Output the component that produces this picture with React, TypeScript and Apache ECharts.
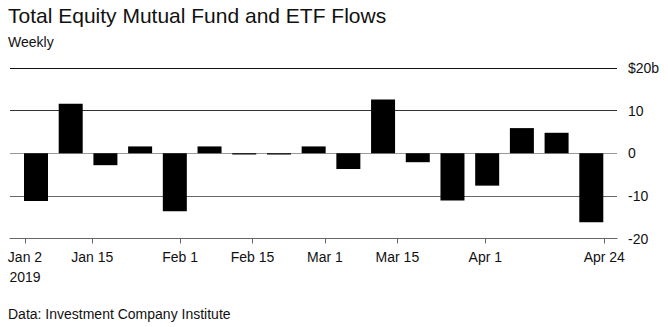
import React, { useEffect, useRef } from "react";
import * as echarts from "echarts";

const weeks = [
  "2019-01-02", "2019-01-09", "2019-01-16", "2019-01-23", "2019-01-30",
  "2019-02-06", "2019-02-13", "2019-02-20", "2019-02-27",
  "2019-03-06", "2019-03-13", "2019-03-20", "2019-03-27",
  "2019-04-03", "2019-04-10", "2019-04-17", "2019-04-24",
];
const flows = [-11.2, 11.6, -2.8, 1.6, -13.6, 1.6, -0.3, -0.3, 1.6, -3.7, 12.6, -2.1, -11.1, -7.6, 5.9, 4.8, -16.2];
const tickDates = ["2019-01-02", "2019-01-15", "2019-02-01", "2019-02-15", "2019-03-01", "2019-03-15", "2019-04-01", "2019-04-24"];
const tickLabels = ["Jan 2\n2019", "Jan 15", "Feb 1", "Feb 15", "Mar 1", "Mar 15", "Apr 1", "Apr 24"];
const yTicks = [-20, -10, 0, 10, 20];
const yLabels = ["-20", "-10", "0", "10", "$20b"];

const title = "Total Equity Mutual Fund and ETF Flows";
const subtitle = "Weekly";
const source = "Data: Investment Company Institute";

const FONT = "'Liberation Sans', Arial, Helvetica, sans-serif";

export default function App() {
  const ref = useRef<HTMLDivElement>(null);
  useEffect(() => {
    if (!ref.current) return;
    const chart = echarts.init(ref.current, undefined, { renderer: "svg" });
    const t0 = Date.parse(tickDates[0]);
    const tickDays = tickDates.map((d) => Math.round((Date.parse(d) - t0) / 86400000));
    const option: any = {
      animation: false,
      backgroundColor: "#fff",
      textStyle: { fontFamily: FONT },
      graphic: [
        { type: "text", x: 8, y: 15, style: { text: title, fontSize: 21, fontFamily: FONT, fill: "#111", align: "left", verticalAlign: "middle" } },
        { type: "text", x: 8, y: 41.5, style: { text: subtitle, fontSize: 14, fontFamily: FONT, fill: "#111", align: "left", verticalAlign: "middle" } },
        { type: "text", x: 8, y: 314, style: { text: source, fontSize: 14, fontFamily: FONT, fill: "#111", align: "left", verticalAlign: "middle" } },
      ],
      grid: [
        { left: 10, right: 51, top: 68, bottom: 88.5 },
        { left: 18.65, right: 59.35, top: 68, bottom: 88.5 },
      ],
      xAxis: [
        {
          type: "value",
          gridIndex: 0,
          min: -2.9,
          max: 114.46,
          axisLine: { show: true, onZero: false, lineStyle: { color: "#666", width: 1 } },
          axisTick: { show: true, customValues: tickDays, length: 5, lineStyle: { color: "#666" } },
          axisLabel: {
            customValues: tickDays,
            margin: 8,
            fontSize: 14,
            lineHeight: 20.5,
            color: "#111",
            fontFamily: FONT,
            formatter: (v: number) => {
              const i = tickDays.indexOf(Math.round(v));
              return i >= 0 ? tickLabels[i] : "";
            },
          },
          splitLine: { show: false },
        },
        {
          type: "category",
          gridIndex: 1,
          data: weeks,
          show: false,
          boundaryGap: true,
        },
      ],
      yAxis: [
        {
          type: "value",
          gridIndex: 0,
          position: "right",
          min: -20,
          max: 20,
          interval: 10,
          axisLine: { show: false },
          axisTick: { show: false },
          axisLabel: {
            margin: 11,
            fontSize: 14,
            color: "#111",
            fontFamily: FONT,
            formatter: (v: number) => {
              const i = yTicks.indexOf(v);
              return i >= 0 ? yLabels[i] : String(v);
            },
          },
          splitLine: {
            show: true,
            lineStyle: { color: ["#666", "#666", "#999", "#333", "#111"], width: 1 },
          },
        },
        {
          type: "value",
          gridIndex: 1,
          min: -20,
          max: 20,
          show: false,
          splitLine: { show: false },
        },
      ],
      series: [
        {
          type: "bar",
          xAxisIndex: 1,
          yAxisIndex: 1,
          data: flows,
          barWidth: 24,
          itemStyle: { color: "#000" },
          z: 3,
        },
      ],
    };
    chart.setOption(option);
    return () => chart.dispose();
  }, []);
  return <div ref={ref} style={{ position: "fixed", left: 0, top: 0, width: 668, height: 327 }} />;
}
